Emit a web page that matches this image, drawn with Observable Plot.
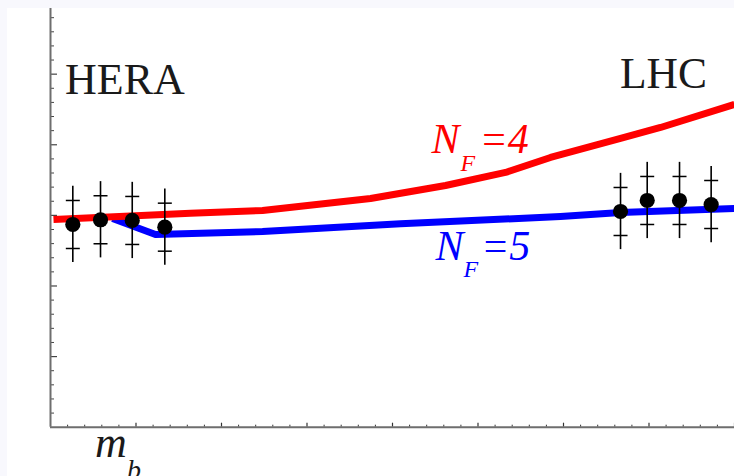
<!DOCTYPE html>
<html><head><meta charset="utf-8">
<script src="https://cdn.jsdelivr.net/npm/d3@7"></script>
<script src="https://cdn.jsdelivr.net/npm/@observablehq/plot@0.6"></script>
<style>
html,body{margin:0;padding:0;background:#f8f8fd;width:734px;height:476px;overflow:hidden;}
#chart{position:absolute;left:7px;top:8px;width:727px;height:468px;background:#ffffff;overflow:hidden;}
#chart svg{display:block;}
</style></head><body><div id="chart"></div>
<script>
// Data points (HERA and LHC) with inner (stat) and outer (total) errors
const heraX = [0.261, 0.585, 0.956, 1.337];
const heraY = [2.871, 2.938, 2.928, 2.833];
const heraStat = [0.34, 0.34, 0.34, 0.34];
const heraTot = [0.54, 0.54, 0.54, 0.54];
const lhcX = [6.667, 6.979, 7.357, 7.727];
const lhcY = [3.055, 3.211, 3.211, 3.154];
const lhcStat = [0.34, 0.34, 0.34, 0.34];
const lhcTot = [0.54, 0.54, 0.54, 0.54];
// Theory curves
const nf4X = [0.035, 1.637, 2.480, 3.743, 4.620, 5.322, 5.848, 6.667, 7.135, 8.0];
const nf4Y = [2.942, 3.031, 3.069, 3.239, 3.423, 3.608, 3.820, 4.089, 4.245, 4.571];
const nf5X = [0.725, 1.228, 2.480, 4.094, 5.965, 6.667, 8.0];
const nf5Y = [2.956, 2.729, 2.772, 2.881, 2.984, 3.041, 3.097];
const mb = 0.725;
// Tick positions
const xTicks = d3.range(1, 41).map(i => i / 5);
const yTicks = d3.range(1, 30).map(i => i / 5);
const isMajor = v => Math.abs(v - Math.round(v)) < 1e-6;

const points = [
  ...heraX.map((x, i) => ({x, y: heraY[i], stat: heraStat[i], tot: heraTot[i]})),
  ...lhcX.map((x, i) => ({x, y: lhcY[i], stat: lhcStat[i], tot: lhcTot[i]}))
];
const nf4 = nf4X.map((x, i) => ({x, y: nf4Y[i]}));
const nf5 = nf5X.map((x, i) => ({x, y: nf5Y[i]}));

const W = 727, H = 468, ML = 43, MR = 0, MT = 0, MB = 49.3;
const PW = W - ML - MR, PH = H - MT - MB;
const hbar = {draw(ctx, size) { const r = Math.sqrt(size / Math.PI); ctx.moveTo(-r, 0); ctx.lineTo(r, 0); }};
const serif = "Liberation Serif";

const chart = Plot.plot({
  width: W, height: H,
  marginLeft: ML, marginRight: MR, marginTop: MT, marginBottom: MB,
  x: {domain: [0, 8], axis: null},
  y: {domain: [0, 5.93], axis: null},
  style: {background: "transparent"},
  marks: [
    // axes ticks
    Plot.tickY(yTicks.filter(v => !isMajor(v)), {y: d => d, stroke: "#444", strokeWidth: 1, insetRight: PW - 4}),
    Plot.tickY(yTicks.filter(isMajor), {y: d => d, stroke: "#444", strokeWidth: 1.2, insetRight: PW - 7}),
    Plot.tickX(xTicks.filter(v => !isMajor(v)), {x: d => d, stroke: "#333", strokeWidth: 1, insetTop: PH - 2}),
    Plot.tickX(xTicks.filter(isMajor), {x: d => d, stroke: "#333", strokeWidth: 1.2, insetTop: PH - 4}),
    Plot.ruleX([0], {stroke: "#6e6e6e", strokeWidth: 2}),
    Plot.ruleY([0], {stroke: "#6e6e6e", strokeWidth: 2}),
    // curves
    Plot.line(nf5, {x: "x", y: "y", stroke: "#0000ff", strokeWidth: 7, strokeLinecap: "butt"}),
    Plot.line(nf4, {x: "x", y: "y", stroke: "#ff0000", strokeWidth: 7, strokeLinecap: "butt"}),
    // error bars
    Plot.ruleX(points, {x: "x", y1: d => d.y - d.tot, y2: d => d.y + d.tot, stroke: "black", strokeWidth: 1.6}),
    Plot.dot(points, {x: "x", y: d => d.y + d.stat, r: 7, symbol: hbar, stroke: "black", fill: "none", strokeWidth: 1.5}),
    Plot.dot(points, {x: "x", y: d => d.y - d.stat, r: 7, symbol: hbar, stroke: "black", fill: "none", strokeWidth: 1.5}),
    Plot.dot(points, {x: "x", y: "y", r: 7.6, fill: "black", stroke: "none"}),
    // labels
    Plot.text(["HERA"], {x: 0.17, y: 4.712, text: d => d, textAnchor: "start", lineAnchor: "bottom", fontFamily: serif, fontSize: 44, fill: "#1a1a1a"}),
    Plot.text(["LHC"], {x: 6.66, y: 4.807, text: d => d, textAnchor: "start", lineAnchor: "bottom", fontFamily: serif, fontSize: 43.5, fill: "#1a1a1a"}),
    Plot.text(["N"], {x: 4.456, y: 3.877, text: d => d, textAnchor: "start", lineAnchor: "bottom", fontFamily: serif, fontStyle: "italic", fontSize: 42, fill: "#ff0000"}),
    Plot.text(["F"], {x: 4.456, y: 3.877, dx: 29, dy: 17.7, text: d => d, textAnchor: "start", lineAnchor: "bottom", fontFamily: serif, fontStyle: "italic", fontSize: 24, fill: "#ff0000"}),
    Plot.text(["=4"], {x: 4.456, y: 3.877, dx: 48, text: d => d, textAnchor: "start", lineAnchor: "bottom", fontFamily: serif, fontStyle: "italic", fontSize: 42, fill: "#ff0000"}),
    Plot.text(["N"], {x: 4.503, y: 2.361, text: d => d, textAnchor: "start", lineAnchor: "bottom", fontFamily: serif, fontStyle: "italic", fontSize: 42, fill: "#0000ff"}),
    Plot.text(["F"], {x: 4.503, y: 2.361, dx: 28, dy: 17, text: d => d, textAnchor: "start", lineAnchor: "bottom", fontFamily: serif, fontStyle: "italic", fontSize: 24, fill: "#0000ff"}),
    Plot.text(["=5"], {x: 4.503, y: 2.361, dx: 45.5, text: d => d, textAnchor: "start", lineAnchor: "bottom", fontFamily: serif, fontStyle: "italic", fontSize: 42, fill: "#0000ff"}),
    Plot.text(["m"], {x: mb, frameAnchor: "bottom", dx: -17.5, dy: 30, text: d => d, textAnchor: "start", lineAnchor: "bottom", fontFamily: serif, fontStyle: "italic", fontSize: 44, fill: "#1a1a1a"}),
    Plot.text(["b"], {x: mb, frameAnchor: "bottom", dx: 14.5, dy: 52, text: d => d, textAnchor: "start", lineAnchor: "bottom", fontFamily: serif, fontStyle: "italic", fontSize: 28, fill: "#1a1a1a"})
  ]
});
document.getElementById("chart").appendChild(chart);
</script>
</body></html>
